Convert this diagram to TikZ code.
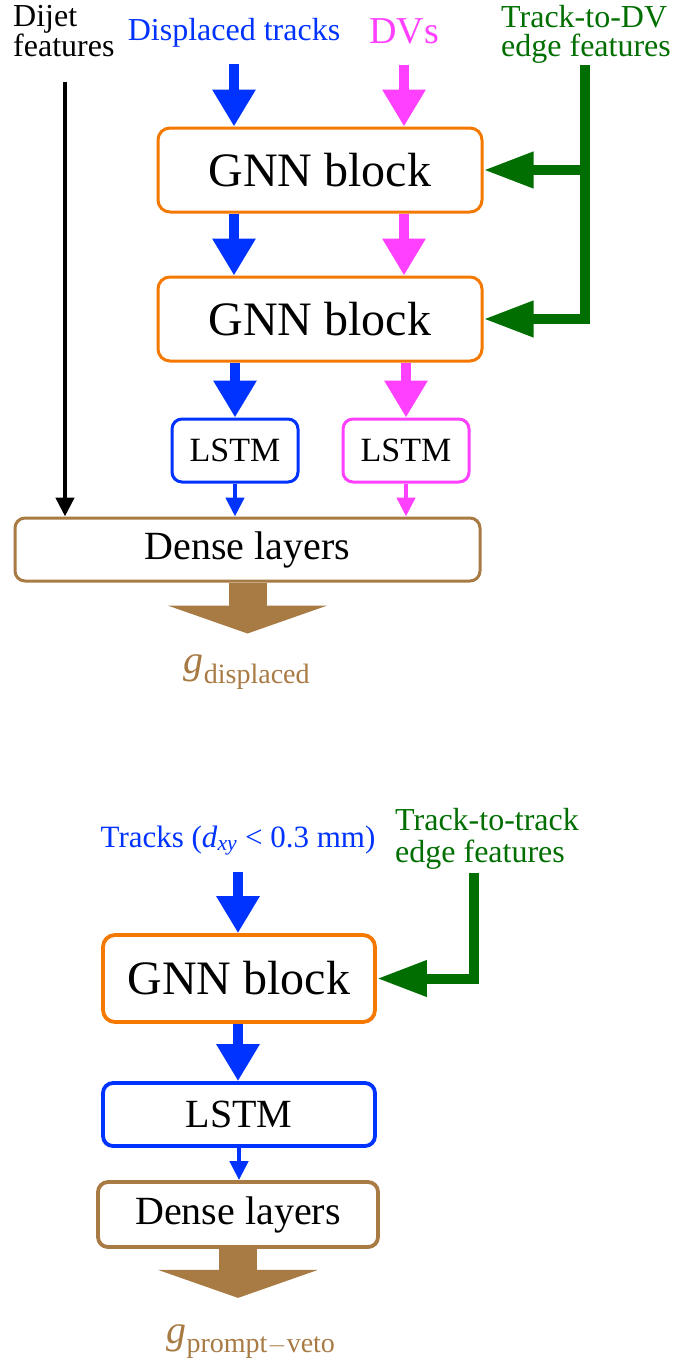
\documentclass[tikz,border=0pt]{standalone}
\usepackage{amsmath}
\usepackage{fontspec}
\setmainfont{Liberation Serif}
\usepackage{tikz}
\usetikzlibrary{positioning, arrows.meta}

\definecolor{nnblue}{RGB}{0,51,255}
\definecolor{nnmag}{RGB}{255,64,255}
\definecolor{nnorange}{RGB}{245,120,0}
\definecolor{nngreen}{RGB}{0,110,0}
\definecolor{nnbrown}{RGB}{168,122,68}

\begin{document}
\begin{tikzpicture}[x = 1pt, y = -1pt,
    lbl/.style = { inner sep = 0pt, font = \fontsize{32}{29}\selectfont },
    gnnbox/.style = { draw = nnorange, fill = white, rounded corners = 12pt, line width = 3pt,
      minimum width = 324pt, minimum height = 84pt, font = \fontsize{48}{48}\selectfont },
    lstmbox/.style = { fill = white, rounded corners = 10pt, line width = 3pt,
      minimum width = 126pt, minimum height = 63pt, font = \fontsize{34}{34}\selectfont },
    densebox/.style = { draw = nnbrown, fill = white, rounded corners = 10pt, line width = 3pt,
      minimum height = 63pt, font = \fontsize{40}{40}\selectfont },
    fat/.style = { line width = 10pt, -{Triangle[width = 41pt, length = 37pt]} },
    slim/.style = { line width = 4.5pt, -{Triangle[width = 18pt, length = 19pt]} },
    elbow/.style = { nngreen, line width = 10pt, -{Triangle[width = 34pt, length = 50pt]} },
    result/.style = { nnbrown, line width = 38pt, -{Triangle[width = 159pt, length = 28pt]} }]

  \useasboundingbox (0,0) rectangle (697,1360);

  % displaced network
  \node[lbl, align = left, anchor = north west] (dijet) at (13,5) {Dijet\\features};
  \node[lbl, nnblue, anchor = base] (dtrk) at (234,40) {Displaced tracks};
  \node[lbl, nnmag, anchor = base, font = \fontsize{38}{38}\selectfont] (dvs) at (404,43) {DVs};
  \node[lbl, nngreen, align = left, anchor = north west] (tdv) at (501,5) {Track-to-DV\\edge features};

  \node[gnnbox] (gnn1) at (320,170) {GNN block};
  \node[gnnbox, below = 62pt of gnn1] (gnn2) {GNN block};
  \node[lstmbox, draw = nnblue] (lstmA) at (235,450.5) {LSTM};
  \node[lstmbox, draw = nnmag] (lstmB) at (406,450.5) {LSTM};
  \node[densebox, minimum width = 465pt] (dense1) at (247.5,549.5) {Dense layers};
  \node[nnbrown, anchor = base, inner sep = 0pt, font = \fontsize{40}{40}\selectfont] (gdisp) at (247,673)
    {$\textit{g}_{\textrm{displaced}}$};

  \draw[fat, nnblue] ([yshift = -17pt]dtrk.south) -- (dtrk.south |- gnn1.north);
  \draw[fat, nnblue] (dtrk.south |- gnn1.south) -- (dtrk.south |- gnn2.north);
  \draw[fat, nnblue] (lstmA.north |- gnn2.south) -- (lstmA.north);
  \draw[fat, nnmag] (dvs.south |- 0,65) -- (dvs.south |- gnn1.north);
  \draw[fat, nnmag] (dvs.south |- gnn1.south) -- (dvs.south |- gnn2.north);
  \draw[fat, nnmag] (lstmB.north |- gnn2.south) -- (lstmB.north);
  \draw[slim, nnblue] (lstmA.south) -- (lstmA.south |- dense1.north);
  \draw[slim, nnmag] (lstmB.south) -- (lstmB.south |- dense1.north);

  \coordinate (dj) at (65,82);
  \draw[slim] (dj) -- (dj |- dense1.north);

  \coordinate (gtop) at (585,65);
  \draw[elbow] (gtop) |- (gnn2.east);
  \draw[elbow] (gtop |- gnn1.east) -- (gnn1.east);

  \coordinate[below = 51pt of dense1.south] (gdtip);
  \draw[result] (dense1.south) -- (gdtip);

  % prompt-veto network
  \node[lbl, nnblue, anchor = base, font = \fontsize{31}{31}\selectfont] (trk) at (238,847)
    {Tracks (\textit{d}$_{\textit{xy}}$ < 0.3~mm)};
  \node[lbl, nngreen, align = left, anchor = north west, font = \fontsize{32}{32}\selectfont] (ttt) at (395,808)
    {Track-to-track\\edge features};

  \node[gnnbox, line width = 3.8pt, minimum width = 272pt, minimum height = 87pt] (gnn3) at (239,978.5) {GNN block};
  \node[lstmbox, draw = nnblue, line width = 3.8pt, minimum width = 272pt, font = \fontsize{40}{40}\selectfont]
    (lstmC) at (239,1114.5) {LSTM};
  \node[densebox, line width = 3.8pt, minimum width = 280pt, minimum height = 65pt] (dense2) at (238,1214.5) {Dense layers};
  \node[nnbrown, anchor = base, inner sep = 0pt, font = \fontsize{40}{40}\selectfont] (gveto) at (251,1343)
    {$\textit{g}_{\textrm{prompt}-\textrm{veto}}$};

  \draw[fat, nnblue] ([yshift = -16pt]trk.south) -- (trk.south |- gnn3.north);
  \draw[fat, nnblue] (trk.south |- gnn3.south) -- (trk.south |- lstmC.north);
  \draw[slim, nnblue] (lstmC.south) -- (lstmC.south |- dense2.north);

  \coordinate (gtop2) at (474,873);
  \draw[elbow] (gtop2) |- (gnn3.east);

  \coordinate[below = 49pt of dense2.south] (gvtip);
  \draw[result] (dense2.south) -- (gvtip);
\end{tikzpicture}
\end{document}
